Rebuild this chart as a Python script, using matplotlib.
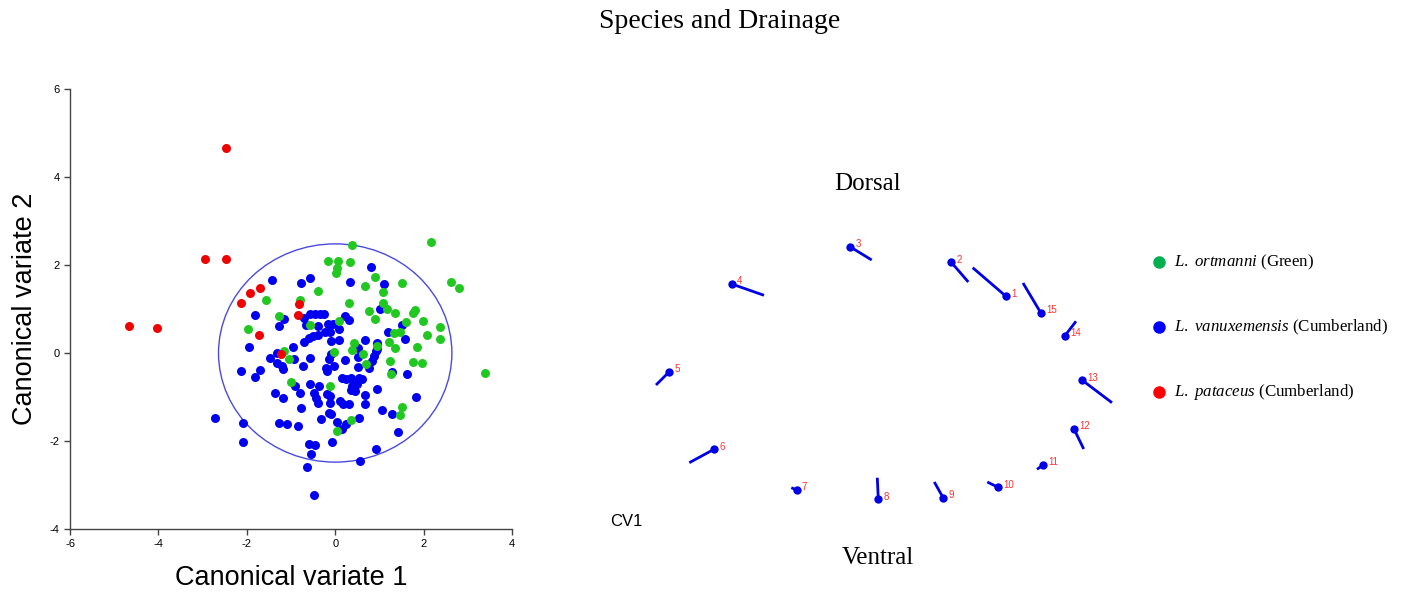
import matplotlib
matplotlib.use("Agg")
import matplotlib.pyplot as plt
from matplotlib.patches import Ellipse
import numpy as np

plt.rcParams['mathtext.fontset'] = 'custom'
plt.rcParams['mathtext.rm'] = 'Liberation Serif'
plt.rcParams['mathtext.it'] = 'Liberation Serif:italic'
plt.rcParams['axes.unicode_minus'] = False

# ---------------- data: canonical variate scores ----------------
green_x = [0.38, 2.17, -0.17, 0.07, 0.34, 0.05, 0.02, 0.89, 0.67, 1.52, 2.62, 2.80, -0.40, 1.09,
           -1.56, -0.79, 0.32, 1.09, 1.18, 0.76, 1.36, 1.75, 1.80, 0.90, -1.27, 0.08, 1.99, 1.60,
           2.37, -0.57, -1.97, 2.08, 1.33, 1.46, 2.37, 1.21, 0.95, 1.36, 1.84, 0.43, 0.38, -0.02,
           -1.15, 0.63, -1.04, 1.23, 0.70, 1.77, 1.97, 1.27, 3.38, -1.01, -0.11, 1.50, 1.46, 0.35, 0.04]
green_y = [2.45, 2.52, 2.08, 2.08, 2.06, 1.94, 1.81, 1.73, 1.53, 1.59, 1.61, 1.47, 1.42, 1.39,
           1.20, 1.20, 1.14, 1.14, 1.00, 0.96, 0.91, 0.91, 0.98, 0.78, 0.83, 0.73, 0.73, 0.70,
           0.59, 0.64, 0.55, 0.42, 0.46, 0.48, 0.31, 0.26, 0.16, 0.12, 0.14, 0.22, 0.06, 0.03,
           0.05, -0.02, -0.13, -0.18, -0.24, -0.20, -0.22, -0.48, -0.46, -0.66, -0.74, -1.23, -1.42, -1.52, -1.77]

blue_x = [0.81, -1.42, -0.57, -0.77, 0.33, 1.11, 1.02, -1.81, -1.16, -1.27, -0.70, -0.66, -0.56, -0.45,
          -0.34, -0.26, -0.17, -0.06, 0.22, 0.31, 0.08, 0.08, -0.09, -0.38, -0.70, -0.60, -0.50, -0.38,
          -0.23, -0.11, 1.51, 1.19, 1.57, 0.67, 0.95, 0.92, 0.87, 0.83, 0.76, 0.51, 0.51, 0.52, 0.23,
          -0.02, -0.20, -0.19, -0.15, -0.09, -1.95, -0.96, -1.32, -1.47, -1.32, -1.21, -1.17, -0.93,
          -0.73, -0.57, -2.14, -1.81, -1.71, 1.63, 1.28, -0.91, -0.57, -0.36, -0.79, -1.36, -1.19,
          -0.48, -0.44, -0.40, -0.18, -0.11, -0.11, 0.15, 0.25, 0.35, 0.42, 0.53, 0.60, 0.38, 0.49,
          0.44, 0.36, 0.11, 0.17, 0.32, 0.67, 0.68, 0.94, 1.83, -0.77, 1.07, 1.28, -0.15, -0.09, -0.32,
          0.04, 0.25, 0.15, 0.53, -1.28, -1.08, -0.85, -2.08, -2.71, -2.09, -0.60, -0.45, -0.55, -0.08,
          0.92, 1.42, 0.57, -0.64, -0.48, 0.95]
blue_y = [1.96, 1.66, 1.71, 1.58, 1.61, 1.57, 1.00, 0.86, 0.77, 0.61, 0.79, 0.64, 0.88, 0.89,
          0.89, 0.89, 0.67, 0.67, 0.83, 0.76, 0.54, 0.30, 0.27, 0.61, 0.25, 0.35, 0.39, 0.42,
          0.47, 0.48, 0.63, 0.48, 0.31, 0.30, 0.23, 0.04, -0.07, -0.18, -0.33, 0.12, -0.09, -0.31, -0.17,
          -0.29, -0.33, -0.41, -0.14, -0.03, 0.14, 0.14, 0.01, -0.11, -0.22, -0.30, -0.37, -0.14,
          -0.30, -0.12, -0.42, -0.54, -0.38, -0.48, -0.43, -0.75, -0.70, -0.75, -0.92, -0.91, -1.03,
          -0.90, -1.02, -1.13, -0.94, -0.98, -1.13, -0.56, -0.58, -0.56, -0.64, -0.56, -0.60, -0.75, -0.71,
          -0.86, -0.83, -1.09, -1.15, -1.15, -0.95, -1.17, -0.81, -1.00, -1.26, -1.29, -1.39, -1.36, -1.38, -1.50,
          -1.57, -1.62, -1.73, -1.48, -1.60, -1.62, -1.66, -1.60, -1.48, -2.02, -2.06, -2.08, -2.30, -2.02,
          -2.19, -1.80, -2.46, -2.59, -3.22, 0.09]

red_x = [-2.47, -2.95, -2.46, -4.66, -4.03, -1.92, -1.71, -2.14, -0.82, -0.85, -1.72, -1.22]
red_y = [4.67, 2.13, 2.13, 0.61, 0.57, 1.36, 1.47, 1.14, 1.11, 0.86, 0.42, -0.03]

ellipse_w, ellipse_h = 5.28, 4.96  # full width / height of the confidence ellipse

x_ticks = [-6, -4, -2, 0, 2, 4]
y_ticks = [-4, -2, 0, 2, 4, 6]

# ---------------- data: landmark configuration and CV1 shape change ----------------
lm_id = list(range(1, 16))
lm_x = [1.26, 0.713, -0.30, -1.483, -2.107, -1.66, -0.833, -0.017, 0.633, 1.18, 1.633, 1.94, 2.023, 1.847, 1.607]
lm_y = [0.837, 1.177, 1.333, 0.96, 0.083, -0.693, -1.10, -1.193, -1.18, -1.073, -0.85, -0.49, -0.003, 0.44, 0.673]
lm_dx = [-0.333, 0.17, 0.217, 0.323, -0.133, -0.247, -0.054, -0.01, -0.09, -0.107, -0.063, 0.097, 0.297, 0.113, -0.177]
lm_dy = [0.286, -0.197, -0.133, -0.113, -0.133, -0.134, 0.023, 0.216, 0.16, 0.053, -0.043, -0.20, -0.224, 0.147, 0.297]

legend_labels = [r"$\it{L.\ ortmanni}$ (Green)",
                 r"$\it{L.\ vanuxemensis}$ (Cumberland)",
                 r"$\it{L.\ pataceus}$ (Cumberland)"]
legend_colors = ["#00b050", "#0000ff", "#ff0000"]

# ---------------- figure ----------------
W, H = 1405, 595
fig = plt.figure(figsize=(W / 100, H / 100), dpi=100)

fig.text(720 / W, 1 - 22 / H, "Species and Drainage", ha="center", va="center",
         family="Liberation Serif", fontsize=20)

# left scatter
ax = fig.add_axes([70 / W, 1 - 529 / H, 442 / W, 440 / H])
ax.scatter(blue_x, blue_y, s=42, color="#0000f0", linewidths=0, zorder=3)
ax.scatter(green_x, green_y, s=42, color="#22c822", linewidths=0, zorder=3)
ax.scatter(red_x, red_y, s=42, color="#f00000", linewidths=0, zorder=4)
ax.add_patch(Ellipse((0, 0), ellipse_w, ellipse_h, fill=False, edgecolor="#4a4ae0", linewidth=1.0, zorder=2))
ax.set_xlim(-6, 4)
ax.set_ylim(-4, 6)
ax.set_xticks(x_ticks)
ax.set_yticks(y_ticks)
for s in ["top", "right"]:
    ax.spines[s].set_visible(False)
for s in ["left", "bottom"]:
    ax.spines[s].set_color("#444444")
    ax.spines[s].set_linewidth(1.0)
ax.tick_params(direction="out", length=4, width=1, colors="#444444", labelsize=8, labelcolor="black")
for lab in ax.get_xticklabels() + ax.get_yticklabels():
    lab.set_family("Liberation Sans")
ax.set_xlabel("Canonical variate 1", family="Liberation Sans", fontsize=19.5, labelpad=11)
ax.set_ylabel("Canonical variate 2", family="Liberation Sans", fontsize=19.5, labelpad=8)

# right landmark panel
ax2 = fig.add_axes([0, 0, 1, 1])
ax2.set_xlim((0 - 880) / 100, (W - 880) / 100)
ax2.set_ylim((380 - H) / 100, 380 / 100)
ax2.axis("off")
for i in range(len(lm_id)):
    ax2.plot([lm_x[i], lm_x[i] + lm_dx[i]], [lm_y[i], lm_y[i] + lm_dy[i]],
             color="#0000e6", lw=2.0, solid_capstyle="butt")
    ax2.plot(lm_x[i], lm_y[i], "o", color="#0000e6", ms=6, mew=0)
    ax2.annotate(str(lm_id[i]), (lm_x[i], lm_y[i]), xytext=(3.8, 2), textcoords="offset points",
                 fontsize=7, color="#ff3030", family="Liberation Sans", va="center", ha="left")

fig.text(868 / W, 1 - 184 / H, "Dorsal", ha="center", va="center", family="Liberation Serif", fontsize=18)
fig.text(878 / W, 1 - 558 / H, "Ventral", ha="center", va="center", family="Liberation Serif", fontsize=18)
fig.text(626 / W, 1 - 521 / H, "CV1", ha="center", va="center", family="Liberation Sans", fontsize=12)

# legend
for k, (lab, col) in enumerate(zip(legend_labels, legend_colors)):
    yy = 1 - (262 + 65 * k) / H
    fig.add_artist(plt.Line2D([1159 / W], [yy], marker="o", color=col, ms=9, mew=0, ls="none"))
    fig.text(1174 / W, yy, lab, ha="left", va="center", fontsize=12.2, family="Liberation Serif")

fig.savefig("out.png", dpi=100)
